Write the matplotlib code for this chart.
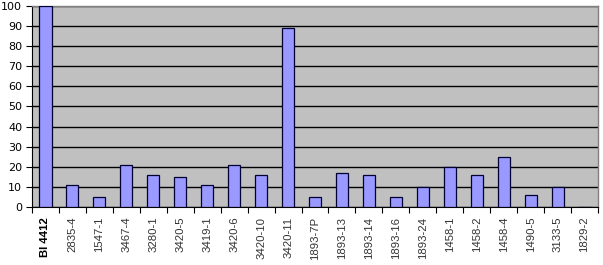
import matplotlib.pyplot as plt
import numpy as np

labels = ['BI 4412', '2835-4', '1547-1', '3467-4', '3280-1', '3420-5', '3419-1',
          '3420-6', '3420-10', '3420-11', '1893-7P', '1893-13', '1893-14', '1893-16',
          '1893-24', '1458-1', '1458-2', '1458-4', '1490-5', '3133-5', '1829-2']
values = [100, 11, 5, 21, 16, 15, 11, 21, 16, 89, 5, 17, 16, 5, 10, 20, 16, 25, 6, 10, 0]

plt.rcParams['font.family'] = ['Liberation Sans', 'DejaVu Sans']

fig = plt.figure(figsize=(6.03, 2.65), dpi=100)
ax = fig.add_axes([32/603, 1-207/265, 566/603, 201/265])

x = np.arange(len(labels))
ax.bar(x, values, width=0.45, color='#9999FF', edgecolor='#000033', linewidth=0.9, zorder=3)

ax.set_facecolor('#C0C0C0')
ax.set_xlim(-0.5, len(labels)-0.5)
ax.set_ylim(0, 100)
ax.set_yticks(np.arange(0, 101, 10))
ax.yaxis.grid(True, color='black', linewidth=1.0, zorder=1)
ax.tick_params(axis='y', length=4, width=0.8, pad=3)
for t in ax.get_yticklabels():
    t.set_fontfamily('DejaVu Sans')
    t.set_fontsize(8)

ax.set_xticks(x)
ax.set_xticklabels(labels, rotation=90, fontsize=8.2, color='#333333')
ax.tick_params(axis='x', length=0, pad=7)
ax.set_xticks(np.arange(-0.5, len(labels)), minor=True)
ax.tick_params(axis='x', which='minor', length=4, width=0.8)
ax.get_xticklabels()[0].set_fontweight('bold')
ax.get_xticklabels()[0].set_color('black')

for s in ['top', 'right']:
    ax.spines[s].set_color('#808080')
    ax.spines[s].set_linewidth(1.0)
ax.spines['bottom'].set_color('black')
ax.spines['left'].set_color('black')

fig.savefig('out.png', dpi=100)
